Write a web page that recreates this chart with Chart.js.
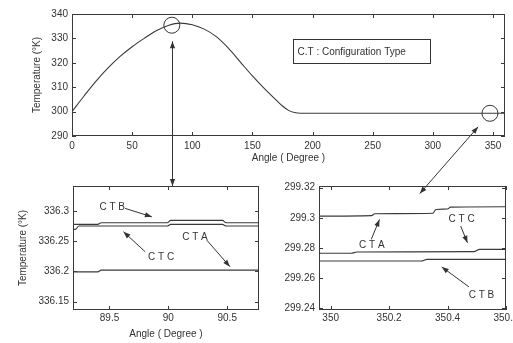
<!DOCTYPE html>
<html>
<head>
<meta charset="utf-8">
<title>Temperature vs angle</title>
<script src="https://cdn.jsdelivr.net/npm/chart.js@4"></script>
<style>
  body { margin: 0; background: #fff; }
  #wrap { position: relative; width: 513px; height: 343px; }
  #wrap canvas { position: absolute; left: 0; top: 0; }
</style>
</head>
<body>
<div id="wrap">
  <canvas id="zoomLeft" width="513" height="343"></canvas>
  <canvas id="zoomRight" width="513" height="343"></canvas>
  <canvas id="full" width="513" height="343"></canvas>
</div>
<script>
// full turn, 0..360 degrees
var angle = [0,10,20,30,40,50,60,70,80,90,100,110,120,130,140,150,160,170,175,180,185,190,200,220,240,260,280,300,320,340,360]
var temp  = [300.0,306.4,312.5,317.9,322.6,326.6,330.0,333.1,335.3,336.27,335.6,333.8,330.7,326.0,320.3,314.6,309.4,304.6,302.3,300.5,299.6,299.3,299.3,299.3,299.3,299.3,299.3,299.3,299.3,299.3,299.3]
var fullXTicks = [0,50,100,150,200,250,300,350]
var fullYTicks = [290,300,310,320,330,340]

// close-up around 90 degrees
var leftA_x = [89.19,89.40,89.43,90.77]
var leftA_y = [336.199,336.199,336.202,336.202]
var leftB_x = [89.19,89.40,89.43,89.99,90.02,90.46,90.49,90.77]
var leftB_y = [336.2776,336.2776,336.2802,336.2802,336.2842,336.2842,336.2802,336.2802]
var leftC_x = [89.19,89.21,89.24,89.99,90.02,90.46,90.49,90.77]
var leftC_y = [336.2693,336.2693,336.2748,336.2748,336.2775,336.2775,336.2748,336.2748]
var leftXTicks = [89.5,90,90.5]
var leftYTicks = [336.15,336.2,336.25,336.3]

// close-up around 350 degrees
var rightA_x = [349.96,350.14,350.15,350.35,350.36,350.40,350.41,350.6]
var rightA_y = [299.3011,299.3014,299.3026,299.303,299.3055,299.3058,299.307,299.3073]
var rightC_x = [349.96,350.07,350.09,350.49,350.51,350.6]
var rightC_y = [299.2765,299.2765,299.2774,299.2776,299.2791,299.2791]
var rightB_x = [349.96,350.31,350.33,350.6]
var rightB_y = [299.2714,299.2714,299.2725,299.2725]
var rightXTicks = [350,350.2,350.4,350.6]
var rightYTicks = [299.24,299.26,299.28,299.3,299.32]

var ink = '#333'
var fontFamily = '"Liberation Sans", Arial, sans-serif'
Chart.defaults.font.family = fontFamily
Chart.defaults.font.size = 10
Chart.defaults.color = ink

function pts(xs, ys){
  return xs.map(function(x, i){ return {x: x, y: ys[i]} })
}

function arrow(ctx, x1, y1, x2, y2, both){
  ctx.beginPath()
  ctx.moveTo(x1, y1)
  ctx.lineTo(x2, y2)
  ctx.stroke()
  head(ctx, x1, y1, x2, y2)
  if(both) head(ctx, x2, y2, x1, y1)
}
function head(ctx, x1, y1, x2, y2){ // filled head at (x2,y2)
  var a = Math.atan2(y2 - y1, x2 - x1), len = 7, w = 2.6
  ctx.beginPath()
  ctx.moveTo(x2, y2)
  ctx.lineTo(x2 - len*Math.cos(a) + w*Math.sin(a), y2 - len*Math.sin(a) - w*Math.cos(a))
  ctx.lineTo(x2 - len*Math.cos(a) - w*Math.sin(a), y2 - len*Math.sin(a) + w*Math.cos(a))
  ctx.closePath()
  ctx.fill()
}

// box round the plot with inward ticks on all four sides
var frame = {
  id: 'frame',
  afterDraw: function(chart){
    var ctx = chart.ctx, a = chart.chartArea
    var xs = chart.scales.x, ys = chart.scales.y
    ctx.save()
    ctx.strokeStyle = '#3a3a3a'
    ctx.lineWidth = 1
    ctx.strokeRect(Math.round(a.left) + 0.5, Math.round(a.top) + 0.5, Math.round(a.width) - 1, Math.round(a.height) - 1)
    ctx.beginPath()
    xs.ticks.forEach(function(t){
      var p = Math.round(xs.getPixelForValue(t.value)) + 0.5
      ctx.moveTo(p, a.bottom); ctx.lineTo(p, a.bottom - 4)
      ctx.moveTo(p, a.top); ctx.lineTo(p, a.top + 4)
    })
    ys.ticks.forEach(function(t){
      var p = Math.round(ys.getPixelForValue(t.value)) + 0.5
      ctx.moveTo(a.left, p); ctx.lineTo(a.left + 4, p)
      ctx.moveTo(a.right, p); ctx.lineTo(a.right - 4, p)
    })
    ctx.stroke()
    ctx.restore()
  }
}

// series names with pointer arrows, given in data units
var notes = {
  id: 'notes',
  afterDraw: function(chart, args, opts){
    if(!opts.items) return
    var ctx = chart.ctx, xs = chart.scales.x, ys = chart.scales.y
    ctx.save()
    ctx.strokeStyle = ink
    ctx.fillStyle = ink
    ctx.lineWidth = 1
    ctx.font = '10px ' + fontFamily
    ctx.textAlign = 'center'
    ctx.textBaseline = 'middle'
    opts.items.forEach(function(n){
      ctx.fillText(n.text, xs.getPixelForValue(n.at[0]), ys.getPixelForValue(n.at[1]))
      arrow(ctx, xs.getPixelForValue(n.from[0]), ys.getPixelForValue(n.from[1]),
                 xs.getPixelForValue(n.to[0]), ys.getPixelForValue(n.to[1]), false)
    })
    ctx.restore()
  }
}

function line(data){
  return {data: data, borderColor: '#3a3a3a', borderWidth: 1.1, pointRadius: 0, fill: false, cubicInterpolationMode: 'monotone'}
}

function makeChart(id, datasets, c){
  return new Chart(document.getElementById(id), {
    type: 'line',
    data: {datasets: datasets},
    plugins: [frame, notes],
    options: {
      responsive: false,
      animation: false,
      events: [],
      layout: {padding: c.padding},
      plugins: {legend: {display: false}, tooltip: {enabled: false}, notes: {items: c.notes}},
      scales: {
        x: {
          type: 'linear', min: c.xMin, max: c.xMax,
          grid: {display: false, drawTicks: false}, border: {display: false},
          ticks: {padding: c.xPad, maxRotation: 0, callback: function(v){ return String(v) }},
          title: c.xTitle ? {display: true, text: c.xTitle, padding: {top: 0, bottom: c.xTitlePad}} : {display: false},
          afterBuildTicks: function(s){ s.ticks = c.xTicks.map(function(v){ return {value: v} }) },
          afterFit: function(s){ s.height = c.xHeight; s.paddingLeft = 0; s.paddingRight = 0 }
        },
        y: {
          type: 'linear', min: c.yMin, max: c.yMax,
          grid: {display: false, drawTicks: false}, border: {display: false},
          ticks: {padding: c.yPad, callback: function(v){ return String(v) }},
          title: c.yTitle ? {display: true, text: c.yTitle, padding: {top: c.yTitlePad, bottom: 0}} : {display: false},
          afterBuildTicks: function(s){ s.ticks = c.yTicks.map(function(v){ return {value: v} }) },
          afterFit: function(s){ s.width = c.yWidth; s.paddingTop = 0; s.paddingBottom = 0 }
        }
      }
    }
  })
}

var leftChart = makeChart('zoomLeft', [
  line(pts(leftA_x, leftA_y)), line(pts(leftB_x, leftB_y)), line(pts(leftC_x, leftC_y))
], {
  padding: {top: 186, right: 254, left: 0, bottom: 0},
  xMin: 89.19, xMax: 90.77, xTicks: leftXTicks, xHeight: 33, xPad: 2,
  xTitle: 'Angle ( Degree )', xTitlePad: 3,
  yMin: 336.136, yMax: 336.341, yTicks: leftYTicks, yWidth: 73, yPad: 4,
  yTitle: 'Temperature (°K)', yTitlePad: 17,
  notes: [
    {text: 'C T B', at: [89.523, 336.306], from: [89.633, 336.304], to: [89.86, 336.290]},
    {text: 'C T C', at: [89.938, 336.2236], from: [89.803, 336.2323], to: [89.619, 336.2654]},
    {text: 'C T A', at: [90.226, 336.257], from: [90.326, 336.2516], to: [90.523, 336.2076]}
  ]
})

var rightChart = makeChart('zoomRight', [
  line(pts(rightA_x, rightA_y)), line(pts(rightB_x, rightB_y)), line(pts(rightC_x, rightC_y))
], {
  padding: {top: 186, right: 7, left: 259, bottom: 0},
  xMin: 349.96, xMax: 350.6, xTicks: rightXTicks, xHeight: 33, xPad: 2,
  yMin: 299.239, yMax: 299.321, yTicks: rightYTicks, yWidth: 60, yPad: 4,
  notes: [
    {text: 'C T A', at: [350.141, 299.282], from: [350.139, 299.2857], to: [350.167, 299.2989]},
    {text: 'C T C', at: [350.448, 299.2993], from: [350.445, 299.2945], to: [350.468, 299.2835]},
    {text: 'C T B', at: [350.516, 299.249], from: [350.473, 299.2543], to: [350.38, 299.2675]}
  ]
})

// marked spots on the full curve and where their close-ups sit
var peakMark = [83, 335.4]
var endMark = [347.5, 299.3]
var keyText = 'C.T : Configuration Type'

var overlay = {
  id: 'overlay',
  afterDraw: function(chart){
    var ctx = chart.ctx, xs = chart.scales.x, ys = chart.scales.y
    ctx.save()
    ctx.strokeStyle = ink
    ctx.fillStyle = ink
    ctx.lineWidth = 1
    // key box
    var bx1 = Math.round(xs.getPixelForValue(184)) + 0.5, bx2 = Math.round(xs.getPixelForValue(298)) + 0.5
    var by1 = Math.round(ys.getPixelForValue(329.8)) + 0.5, by2 = Math.round(ys.getPixelForValue(319.9)) + 0.5
    ctx.strokeRect(bx1, by1, bx2 - bx1, by2 - by1)
    ctx.font = '10px ' + fontFamily
    ctx.textBaseline = 'middle'
    ctx.fillText(keyText, bx1 + 4, (by1 + by2) / 2 + 0.5)

    var p1 = {x: xs.getPixelForValue(peakMark[0]), y: ys.getPixelForValue(peakMark[1])}
    var p2 = {x: xs.getPixelForValue(endMark[0]), y: ys.getPixelForValue(endMark[1])}
    ctx.beginPath(); ctx.arc(p1.x, p1.y, 8, 0, Math.PI*2); ctx.stroke()
    ctx.beginPath(); ctx.arc(p2.x, p2.y, 8, 0, Math.PI*2); ctx.stroke()

    // down to the 90 degree close-up
    arrow(ctx, Math.round(p1.x) + 0.5, p1.y + 16, Math.round(p1.x) + 0.5, leftChart.chartArea.top, true)
    // down to the 350 degree close-up
    var ex = rightChart.scales.x.getPixelForValue(350.305), ey = rightChart.scales.y.getPixelForValue(299.316)
    var dx = ex - p2.x, dy = ey - p2.y, d = Math.sqrt(dx*dx + dy*dy)
    arrow(ctx, p2.x + dx/d*18, p2.y + dy/d*18, ex, ey, true)
    ctx.restore()
  }
}

var fullChart = new Chart(document.getElementById('full'), {
  type: 'line',
  data: {datasets: [line(pts(angle, temp))]},
  plugins: [frame, overlay],
  options: {
    responsive: false,
    animation: false,
    events: [],
    layout: {padding: {top: 14, right: 8, left: 0, bottom: 177}},
    plugins: {legend: {display: false}, tooltip: {enabled: false}},
    scales: {
      x: {
        type: 'linear', min: 0, max: 360,
        grid: {display: false, drawTicks: false}, border: {display: false},
        ticks: {padding: 4, maxRotation: 0},
        title: {display: true, text: 'Angle ( Degree )', padding: {top: 0, bottom: 2}},
        afterBuildTicks: function(s){ s.ticks = fullXTicks.map(function(v){ return {value: v} }) },
        afterFit: function(s){ s.height = 30; s.paddingLeft = 0; s.paddingRight = 0 }
      },
      y: {
        type: 'linear', min: 290, max: 340,
        grid: {display: false, drawTicks: false}, border: {display: false},
        ticks: {padding: 4},
        title: {display: true, text: 'Temperature (°K)', padding: {top: 31, bottom: 0}},
        afterBuildTicks: function(s){ s.ticks = fullYTicks.map(function(v){ return {value: v} }) },
        afterFit: function(s){ s.width = 72; s.paddingTop = 0; s.paddingBottom = 0 }
      }
    }
  }
})
</script>
</body>
</html>
